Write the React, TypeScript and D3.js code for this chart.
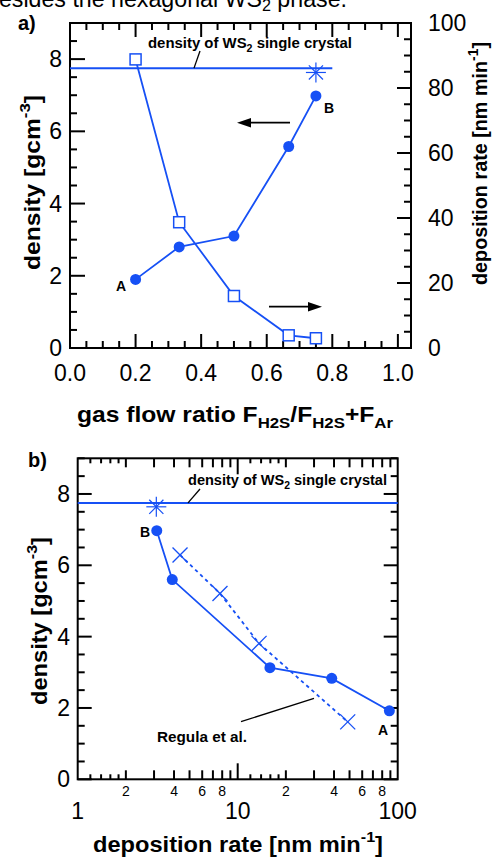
import React from "react";
import * as d3 from "d3";

// ---------- data ----------
const gasRatio = [0.2, 0.333, 0.5, 0.667, 0.75];
const densityA = [1.9, 2.8, 3.1, 5.58, 6.98];
const depRateA = [88.8, 38.7, 16.0, 3.9, 3.0];
const crystalDensity = 7.75;
const crystalLineEndA = 0.8;
const starA = { x: 0.75, y: 7.63 };

const depRateB = [88.7, 38.7, 15.9, 3.9, 3.12];
const densityB = [1.92, 2.83, 3.13, 5.6, 6.97];
const regulaRate = [4.36, 7.75, 13.6, 48.7];
const regulaDensity = [6.29, 5.21, 3.81, 1.61];
const starB = { x: 3.1, y: 7.64 };

const xTicksA = [0, 0.2, 0.4, 0.6, 0.8, 1.0];
const yTicksL = [0, 2, 4, 6, 8];
const yTicksR = [0, 20, 40, 60, 80, 100];
const xMajorB = [1, 10, 100];
const xMinorLabelB = [2, 4, 6, 8, 20, 40, 60, 80];

const BLUE = "#1650f5";
const FONT = "'Liberation Sans', Arial, Helvetica, sans-serif";

export default function App() {
  // panel a scales
  const xA = d3.scaleLinear().domain([0, 1.04]).range([70, 411]);
  const yAL = d3.scaleLinear().domain([0, 9]).range([348, 23]);
  const yAR = d3.scaleLinear().domain([0, 100]).range([348, 23]);
  // panel b scales
  const xB = d3.scaleLog().domain([1, 100]).range([77.7, 397.7]);
  const yB = d3.scaleLinear().domain([0, 9]).range([779.3, 458.3]);

  const lineA = d3
    .line<number>()
    .x((_, i) => xA(gasRatio[i]))
    .y((d) => yAL(d));
  const lineAR = d3
    .line<number>()
    .x((_, i) => xA(gasRatio[i]))
    .y((d) => yAR(d));
  const lineB = d3
    .line<number>()
    .x((d) => xB(d))
    .y((_, i) => yB(densityB[i]));
  const lineReg = d3
    .line<number>()
    .x((d) => xB(d))
    .y((_, i) => yB(regulaDensity[i]));

  // tick arrays
  const xMinorA = d3.range(0, 1.0001, 0.05);
  const yMinorA = d3.range(0, 9.001, 0.5);
  const yMinorAR = d3.range(0, 100.001, 5);
  const yMinorB = d3.range(0, 9.001, 0.5);
  const logTicks: { v: number; len: number }[] = [];
  [1, 10].forEach((dec) => {
    [1.2, 1.4, 1.6, 1.8].forEach((m) => logTicks.push({ v: m * dec, len: 5 }));
    [2, 3, 4, 5, 6, 7, 8, 9].forEach((m) => logTicks.push({ v: m * dec, len: 9 }));
  });
  logTicks.push({ v: 10, len: 16 });

  const star = (cx: number, cy: number, r: number, key: string) => {
    const ang = [0, 45, 90, 135];
    return (
      <g key={key} stroke={BLUE} strokeWidth={1.2}>
        {ang.map((a) => {
          const rad = (a * Math.PI) / 180;
          const dx = Math.cos(rad) * r;
          const dy = Math.sin(rad) * r;
          return <line key={a} x1={cx - dx} y1={cy - dy} x2={cx + dx} y2={cy + dy} />;
        })}
      </g>
    );
  };

  const cross = (cx: number, cy: number, r: number, key: string) => (
    <g key={key} stroke={BLUE} strokeWidth={1.3}>
      <line x1={cx - r} y1={cy - r} x2={cx + r} y2={cy + r} />
      <line x1={cx - r} y1={cy + r} x2={cx + r} y2={cy - r} />
    </g>
  );

  return (
    <svg
      width={496}
      height={859}
      style={{ position: "absolute", left: 0, top: 0, background: "#fff" }}
      fontFamily={FONT}
    >
      <rect x={0} y={0} width={496} height={859} fill="#fff" />
      {/* cropped caption line */}
      <text x={-14} y={7} fontSize={23} fill="#000" textLength={361} lengthAdjust="spacingAndGlyphs">
        besides the hexagonal WS<tspan fontSize={16} dy={4}>2</tspan>
        <tspan dy={-4}> phase.</tspan>
      </text>

      {/* ================= PANEL A ================= */}
      <text x={18} y={30} fontSize={20} fontWeight="bold">a)</text>

      {/* ticks bottom/top */}
      {xMinorA.map((v, i) => {
        const major = Math.abs((v / 0.2) - Math.round(v / 0.2)) < 1e-6;
        const len = major ? 14 : 7;
        return (
          <g key={"xa" + i} stroke="#000" strokeWidth={2}>
            <line x1={xA(v)} x2={xA(v)} y1={348} y2={348 - len} />
            <line x1={xA(v)} x2={xA(v)} y1={23} y2={23 + len} />
          </g>
        );
      })}
      {yMinorA.map((v, i) => {
        const major = v % 2 === 0;
        const len = major ? 15 : 7;
        return (
          <line key={"yal" + i} x1={70} x2={70 + len} y1={yAL(v)} y2={yAL(v)} stroke="#000" strokeWidth={2} />
        );
      })}
      {yMinorAR.map((v, i) => {
        const major = v % 20 === 0;
        const len = major ? 14 : 7;
        return (
          <line key={"yar" + i} x1={411} x2={411 - len} y1={yAR(v)} y2={yAR(v)} stroke="#000" strokeWidth={2} />
        );
      })}
      <rect x={70} y={23} width={341} height={325} fill="none" stroke="#000" strokeWidth={2} />

      {/* tick labels */}
      {xTicksA.map((v) => (
        <text key={"xla" + v} x={xA(v)} y={381} textAnchor="middle" fontSize={23}>
          {v.toFixed(1)}
        </text>
      ))}
      {yTicksL.map((v) => (
        <text key={"yla" + v} x={62} y={yAL(v) + 8} textAnchor="end" fontSize={23}>
          {v}
        </text>
      ))}
      {yTicksR.map((v) => (
        <text key={"yra" + v} x={428} y={yAR(v) + 8} textAnchor="start" fontSize={23}>
          {v}
        </text>
      ))}

      {/* axis titles */}
      <text x={77} y={422} fontSize={22} fontWeight="bold" textLength={316} lengthAdjust="spacingAndGlyphs">
        gas flow ratio F<tspan fontSize={15} dy={6}>H2S</tspan>
        <tspan dy={-6}>/F</tspan>
        <tspan fontSize={15} dy={6}>H2S</tspan>
        <tspan dy={-6}>+F</tspan>
        <tspan fontSize={15} dy={6}>Ar</tspan>
      </text>
      <text transform="translate(40,270) rotate(-90)" fontSize={22} fontWeight="bold" textLength={175} lengthAdjust="spacingAndGlyphs">
        density [gcm<tspan fontSize={15} dy={-10}>-3</tspan>
        <tspan dy={10}>]</tspan>
      </text>
      <text transform="translate(487,285) rotate(-90)" fontSize={20} fontWeight="bold" textLength={243} lengthAdjust="spacingAndGlyphs">
        deposition rate [nm min<tspan fontSize={14} dy={-9}>-1</tspan>
        <tspan dy={9}>]</tspan>
      </text>

      {/* crystal line */}
      <line x1={xA(0)} x2={xA(crystalLineEndA)} y1={yAL(crystalDensity)} y2={yAL(crystalDensity)} stroke={BLUE} strokeWidth={2} />
      <line x1={194} y1={yAL(crystalDensity)} x2={200} y2={51} stroke="#000" strokeWidth={1.3} />
      <text x={148} y={48} fontSize={14} fontWeight="bold" textLength={204} lengthAdjust="spacingAndGlyphs">
        density of WS<tspan fontSize={10} dy={4}>2</tspan>
        <tspan dy={-4}> single crystal</tspan>
      </text>

      {/* deposition rate series (squares) */}
      <path d={lineAR(depRateA) || ""} fill="none" stroke={BLUE} strokeWidth={1.8} />
      {depRateA.map((v, i) => (
        <rect key={"sq" + i} x={xA(gasRatio[i]) - 5.5} y={yAR(v) - 5.5} width={11} height={11} fill="#fff" stroke={BLUE} strokeWidth={1.5} />
      ))}
      {/* density series (circles) */}
      <path d={lineA(densityA) || ""} fill="none" stroke={BLUE} strokeWidth={1.8} />
      {densityA.map((v, i) => (
        <circle key={"ca" + i} cx={xA(gasRatio[i])} cy={yAL(v)} r={5.5} fill={BLUE} />
      ))}
      {star(xA(starA.x), yAL(starA.y), 10, "starA")}

      <text x={116} y={291} fontSize={14} fontWeight="bold">A</text>
      <text x={324} y={113} fontSize={14} fontWeight="bold">B</text>

      {/* arrows */}
      <line x1={290} y1={122.7} x2={248} y2={122.7} stroke="#000" strokeWidth={1.8} />
      <path d="M237,122.7 L251,118 L251,127.4 Z" fill="#000" />
      <line x1={269} y1={306.7} x2={310} y2={306.7} stroke="#000" strokeWidth={1.8} />
      <path d="M322,306.7 L308,302 L308,311.4 Z" fill="#000" />

      {/* ================= PANEL B ================= */}
      <text x={28} y={467} fontSize={20} fontWeight="bold">b)</text>

      {logTicks.map((t, i) => (
        <g key={"lt" + i} stroke="#000" strokeWidth={2}>
          <line x1={xB(t.v)} x2={xB(t.v)} y1={779.3} y2={779.3 - t.len} />
          <line x1={xB(t.v)} x2={xB(t.v)} y1={458.3} y2={458.3 + t.len} />
        </g>
      ))}
      {yMinorB.map((v, i) => {
        const major = v % 2 === 0;
        return (
          <g key={"yb" + i} stroke="#000" strokeWidth={2}>
            <line x1={77.7} x2={77.7 + (major ? 14 : 7)} y1={yB(v)} y2={yB(v)} />
            <line x1={397.7} x2={397.7 - (major ? 14 : 7)} y1={yB(v)} y2={yB(v)} />
          </g>
        );
      })}
      <rect x={77.7} y={458.3} width={320} height={321} fill="none" stroke="#000" strokeWidth={2} />

      {xMajorB.map((v) => (
        <text key={"xlb" + v} x={xB(v)} y={819} textAnchor="middle" fontSize={23}>
          {v}
        </text>
      ))}
      {xMinorLabelB.map((v) => (
        <text key={"xmb" + v} x={xB(v)} y={796} textAnchor="middle" fontSize={14}>
          {String(v).charAt(0)}
        </text>
      ))}
      {yTicksL.map((v) => (
        <text key={"ylb" + v} x={70} y={yB(v) + 8} textAnchor="end" fontSize={23}>
          {v}
        </text>
      ))}

      <text x={93} y={852} fontSize={22} fontWeight="bold" textLength={290} lengthAdjust="spacingAndGlyphs">
        deposition rate [nm min<tspan fontSize={15} dy={-10}>-1</tspan>
        <tspan dy={10}>]</tspan>
      </text>
      <text transform="translate(47,705) rotate(-90)" fontSize={22} fontWeight="bold" textLength={168} lengthAdjust="spacingAndGlyphs">
        density [gcm<tspan fontSize={15} dy={-10}>-3</tspan>
        <tspan dy={10}>]</tspan>
      </text>

      {/* crystal line */}
      <line x1={xB(1)} x2={xB(100)} y1={yB(crystalDensity)} y2={yB(crystalDensity)} stroke={BLUE} strokeWidth={2} />
      <line x1={188} y1={yB(crystalDensity)} x2={200} y2={489} stroke="#000" strokeWidth={1.3} />
      <text x={188} y={485} fontSize={14} fontWeight="bold" textLength={199} lengthAdjust="spacingAndGlyphs">
        density of WS<tspan fontSize={10} dy={4}>2</tspan>
        <tspan dy={-4}> single crystal</tspan>
      </text>

      {/* Regula et al. */}
      <path d={lineReg(regulaRate) || ""} fill="none" stroke={BLUE} strokeWidth={1.8} strokeDasharray="3.5,3.5" />
      {regulaRate.map((v, i) => cross(xB(v), yB(regulaDensity[i]), 7.5, "cr" + i))}
      <line x1={241} y1={721.7} x2={314} y2={698.3} stroke="#000" strokeWidth={1.3} />
      <text x={157} y={742} fontSize={14} fontWeight="bold" textLength={90} lengthAdjust="spacingAndGlyphs">Regula et al.</text>

      {/* this work */}
      <path d={lineB(depRateB) || ""} fill="none" stroke={BLUE} strokeWidth={1.8} />
      {depRateB.map((v, i) => (
        <circle key={"cb" + i} cx={xB(v)} cy={yB(densityB[i])} r={5.5} fill={BLUE} />
      ))}
      {star(xB(starB.x), yB(starB.y), 10, "starB")}
      <text x={140} y={537} fontSize={14} fontWeight="bold">B</text>
      <text x={378} y={735} fontSize={14} fontWeight="bold">A</text>
    </svg>
  );
}
